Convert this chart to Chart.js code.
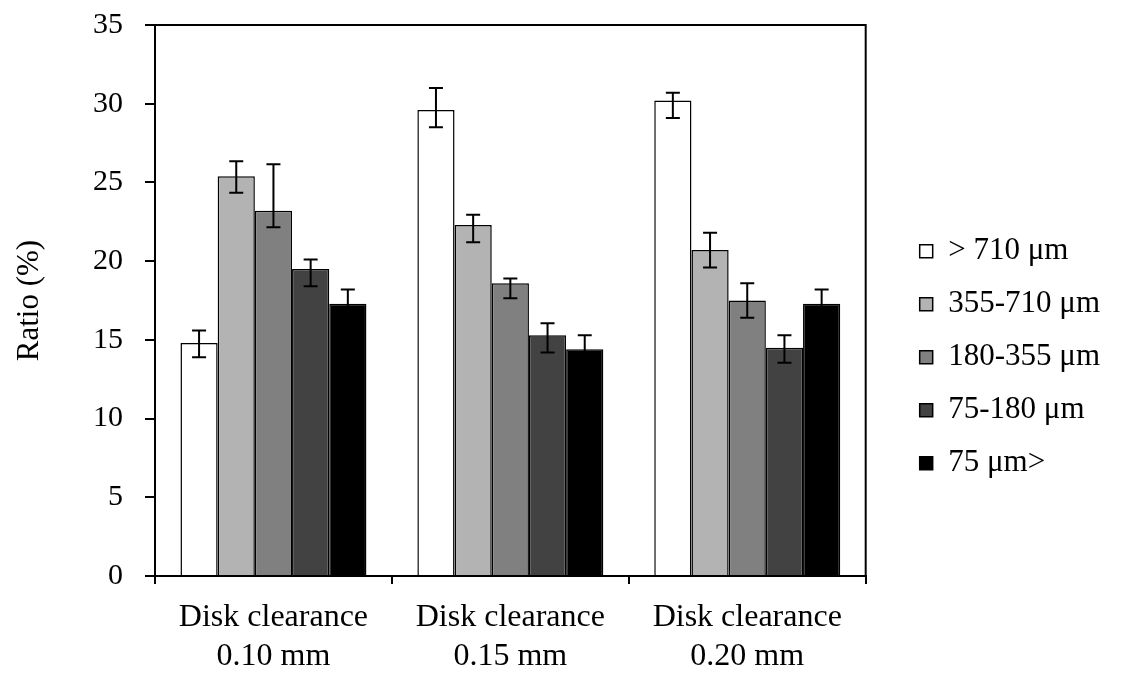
<!DOCTYPE html>
<html lang="en">
<head>
    <meta charset="UTF-8">
    <title>Disk clearance ratio</title>
    <script src="https://cdn.jsdelivr.net/npm/chart.js"></script>
    <style>
        body {
            margin: 0;
            padding: 0;
            background: #ffffff;
        }
        .chart-container {
            position: relative;
            width: 1121px;
            height: 683px;
        }
    </style>
</head>
<body>
    <div class="chart-container">
        <canvas id="ratioChart"></canvas>
    </div>

    <script>
        const categories = [["Disk clearance", "0.10 mm"], ["Disk clearance", "0.15 mm"], ["Disk clearance", "0.20 mm"]];
        const sizeLabels = ["> 710 μm", "355-710 μm", "180-355 μm", "75-180 μm", "75 μm>"];
        const barColors = ["#ffffff", "#b3b3b3", "#808080", "#424242", "#000000"];

        // ratio (%) per size class, one value per disk clearance
        const over710 = [14.8, 29.6, 30.2];
        const from355 = [25.4, 22.3, 20.7];
        const from180 = [23.2, 18.6, 17.5];
        const from75 = [19.5, 15.3, 14.5];
        const under75 = [17.3, 14.4, 17.3];

        // error bars (upper / lower)
        const over710Up = [0.8, 1.4, 0.5];
        const over710Down = [0.9, 1.1, 1.1];
        const from355Up = [0.95, 0.65, 1.1];
        const from355Down = [1.05, 1.1, 1.1];
        const from180Up = [2.95, 0.3, 1.1];
        const from180Down = [1.05, 0.95, 1.1];
        const from75Up = [0.6, 0.75, 0.8];
        const from75Down = [1.1, 1.1, 0.95];
        const under75Up = [0.9, 0.9, 0.9];
        const under75Down = [0.9, 0.9, 0.9];

        const yTicks = [0, 5, 10, 15, 20, 25, 30, 35];

        const seriesValues = [over710, from355, from180, from75, under75];
        const seriesUp = [over710Up, from355Up, from180Up, from75Up, under75Up];
        const seriesDown = [over710Down, from355Down, from180Down, from75Down, under75Down];

        const serif = "'Liberation Serif', 'Times New Roman', serif";

        const errorBars = {
            id: 'errorBars',
            afterDatasetsDraw(chart) {
                const ctx = chart.ctx;
                const y = chart.scales.y;
                ctx.save();
                ctx.strokeStyle = '#000';
                ctx.lineWidth = 2;
                chart.data.datasets.forEach((ds, i) => {
                    const meta = chart.getDatasetMeta(i);
                    meta.data.forEach((bar, j) => {
                        const top = y.getPixelForValue(ds.data[j] + ds.errUp[j]);
                        const bottom = y.getPixelForValue(ds.data[j] - ds.errDown[j]);
                        ctx.beginPath();
                        ctx.moveTo(bar.x, top);
                        ctx.lineTo(bar.x, bottom);
                        ctx.moveTo(bar.x - 7, top);
                        ctx.lineTo(bar.x + 7, top);
                        ctx.moveTo(bar.x - 7, bottom);
                        ctx.lineTo(bar.x + 7, bottom);
                        ctx.stroke();
                    });
                });
                ctx.restore();
            }
        };

        const plotFrame = {
            id: 'plotFrame',
            afterDraw(chart) {
                const a = chart.chartArea;
                const ctx = chart.ctx;
                ctx.save();
                ctx.strokeStyle = '#000';
                ctx.lineWidth = 2;
                ctx.strokeRect(a.left, a.top, a.right - a.left, a.bottom - a.top);
                ctx.restore();
            }
        };

        const ctx = document.getElementById("ratioChart").getContext("2d");
        new Chart(ctx, {
            type: "bar",
            data: {
                labels: categories,
                datasets: sizeLabels.map((label, i) => ({
                    label: label,
                    data: seriesValues[i],
                    errUp: seriesUp[i],
                    errDown: seriesDown[i],
                    backgroundColor: barColors[i],
                    borderColor: "#000",
                    borderWidth: 1.5,
                    barPercentage: 1.0,
                    categoryPercentage: 0.785
                }))
            },
            plugins: [errorBars, plotFrame],
            options: {
                responsive: true,
                maintainAspectRatio: false,
                animation: false,
                layout: { padding: { top: 25, right: 11, bottom: 0, left: 0 } },
                plugins: {
                    tooltip: { enabled: false },
                    legend: {
                        position: "right",
                        align: "center",
                        maxWidth: 260,
                        title: { display: true, text: " ", font: { size: 2 }, padding: 2 },
                        labels: {
                            color: "#000",
                            font: { family: serif, size: 31 },
                            boxWidth: 13,
                            boxHeight: 13,
                            padding: 22
                        }
                    }
                },
                scales: {
                    x: {
                        grid: {
                            drawOnChartArea: false,
                            drawTicks: true,
                            tickLength: 8,
                            color: "#000",
                            lineWidth: 2
                        },
                        border: { color: "#000", width: 2 },
                        ticks: {
                            color: "#000",
                            font: { family: serif, size: 32, lineHeight: 1.19 },
                            padding: 15,
                            maxRotation: 0
                        },
                        afterFit: s => {
                            s.height = 107;
                            s.paddingLeft = 0;
                            s.paddingRight = 0;
                        }
                    },
                    y: {
                        min: 0,
                        max: 35,
                        afterBuildTicks: s => { s.ticks = yTicks.map(v => ({ value: v })); },
                        grid: {
                            drawOnChartArea: false,
                            drawTicks: true,
                            tickLength: 10,
                            color: "#000",
                            lineWidth: 2
                        },
                        border: { color: "#000", width: 2 },
                        ticks: {
                            color: "#000",
                            font: { family: serif, size: 30 },
                            padding: 22
                        },
                        title: {
                            display: true,
                            text: "Ratio (%)",
                            color: "#000",
                            font: { family: serif, size: 31 },
                            padding: { top: 11, bottom: 0 }
                        },
                        afterFit: s => {
                            s.width = 155;
                            s.paddingTop = 0;
                            s.paddingBottom = 0;
                        }
                    },
                    y2: {
                        position: "right",
                        display: true,
                        grid: { display: false },
                        border: { display: false },
                        ticks: { display: false },
                        afterFit: s => {
                            s.width = 32;
                            s.paddingTop = 0;
                            s.paddingBottom = 0;
                        }
                    }
                }
            }
        });
    </script>
</body>
</html>
